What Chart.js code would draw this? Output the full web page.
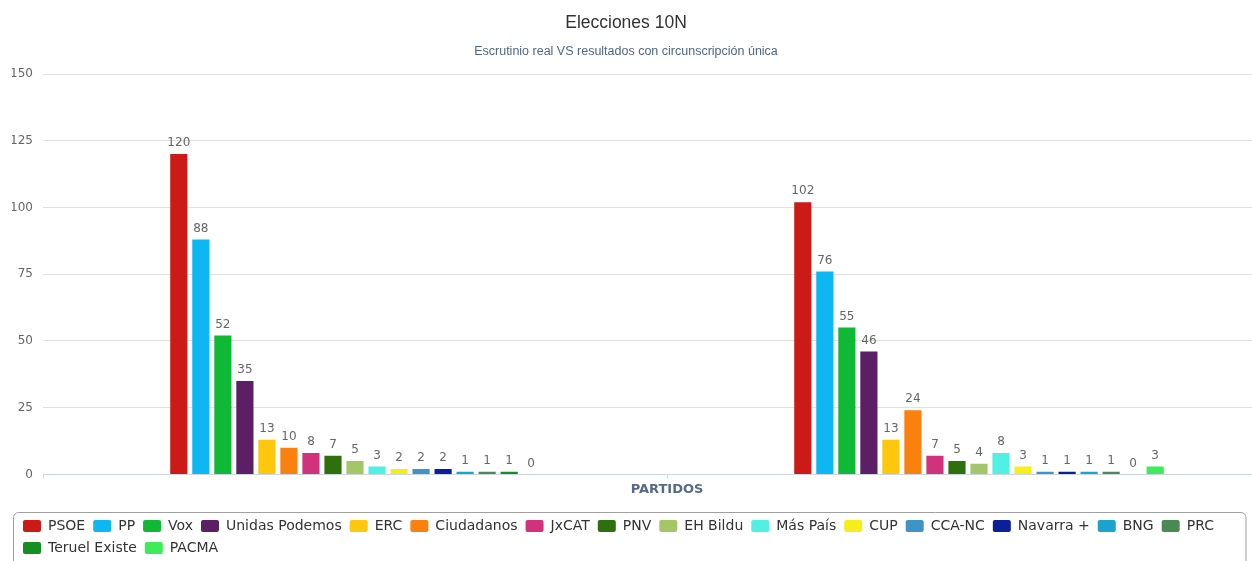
<!DOCTYPE html>
<html lang="es">
<head>
    <meta charset="UTF-8">
    <title>Elecciones 10N</title>
    <script src="https://cdn.jsdelivr.net/npm/chart.js"></script>
    <style>
        html, body { margin: 0; padding: 0; background: #fff; overflow: hidden; }
        /* plot and legend run past the page edges, like in the original capture */
        #wrap { width: 1300px; height: 565px; position: relative; }
    </style>
</head>
<body>
    <div id="wrap"><canvas id="seatsChart"></canvas></div>

    <script>
        // groups on the x axis (labels are not shown in the original)
        var grupos = ['Escrutinio real', 'Circunscripción única'];

        var partidos = ['PSOE', 'PP', 'Vox', 'Unidas Podemos', 'ERC', 'Ciudadanos', 'JxCAT', 'PNV',
                        'EH Bildu', 'Más País', 'CUP', 'CCA-NC', 'Navarra +', 'BNG', 'PRC',
                        'Teruel Existe', 'PACMA'];

        var escanosReales = [120, 88, 52, 35, 13, 10, 8, 7, 5, 3, 2, 2, 2, 1, 1, 1, 0];
        var escanosUnica  = [102, 76, 55, 46, 13, 24, 7, 5, 4, 8, 3, 1, 1, 1, 1, 0, 3];

        var colores = ['#cc1b16', '#0db7f2', '#0fb935', '#5b1f66', '#fdc70c', '#fb810e', '#d2327d', '#2e700d',
                       '#a5c667', '#50f0e4', '#f6ee1b', '#3f94c7', '#0c1e9a', '#1aa3cc', '#4a8a52',
                       '#168f22', '#3eec5a'];

        var yTicks = [0, 25, 50, 75, 100, 125, 150];

        var titulo = 'Elecciones 10N';
        var subtitulo = 'Escrutinio real VS resultados con circunscripción única';
        var PAGE_W = 1252;

        var datasets = partidos.map(function(p, i) {
            return {
                label: p,
                data: [escanosReales[i], escanosUnica[i]],
                backgroundColor: colores[i],
                borderWidth: 0,
                categoryPercentage: 0.6,
                barPercentage: 0.78
            };
        });

        // numbers above each bar
        var valueLabels = {
            id: 'valueLabels',
            afterDatasetsDraw: function(chart) {
                var ctx = chart.ctx;
                ctx.save();
                ctx.font = '12px "DejaVu Sans", sans-serif';
                ctx.fillStyle = '#666666';
                ctx.textAlign = 'center';
                ctx.textBaseline = 'bottom';
                chart.data.datasets.forEach(function(ds, i) {
                    chart.getDatasetMeta(i).data.forEach(function(bar, j) {
                        ctx.fillText(String(ds.data[j]), bar.x, bar.y - 5);
                    });
                });
                ctx.restore();
            }
        };

        // titles centred on the visible page, legend nudged right and framed
        var frame = {
            id: 'frame',
            afterLayout: function(chart) {
                chart.boxes.forEach(function(b) {
                    if (b.options && (b.options.text === titulo || b.options.text === subtitulo)) {
                        b.left = 0;
                        b.right = PAGE_W;
                        b.width = PAGE_W;
                    }
                });
                chart.legend.left = 15;
            },
            beforeDraw: function(chart) {
                var lg = chart.legend;
                var ctx = chart.ctx;
                var x = 13.5, y = lg.top + 1.5, w = PAGE_W - 6 - x, h = 80, r = 5;
                ctx.save();
                ctx.strokeStyle = '#a0a0a0';
                ctx.lineWidth = 1;
                ctx.beginPath();
                ctx.moveTo(x + r, y);
                ctx.lineTo(x + w - r, y);
                ctx.arcTo(x + w, y, x + w, y + r, r);
                ctx.lineTo(x + w, y + h);
                ctx.moveTo(x, y + h);
                ctx.lineTo(x, y + r);
                ctx.arcTo(x, y, x + r, y, r);
                ctx.stroke();
                ctx.restore();
            }
        };

        var ctx = document.getElementById('seatsChart').getContext('2d');
        var seatsChart = new Chart(ctx, {
            type: 'bar',
            data: { labels: grupos, datasets: datasets },
            plugins: [valueLabels, frame],
            options: {
                responsive: true,
                maintainAspectRatio: false,
                animation: false,
                layout: { padding: { left: 12, right: 9, top: 0, bottom: 0 } },
                plugins: {
                    title: {
                        display: true,
                        text: titulo,
                        color: '#333333',
                        font: { family: '"Liberation Sans", Arial, sans-serif', size: 17.5, weight: 'normal' },
                        padding: { top: 13, bottom: 0 }
                    },
                    subtitle: {
                        display: true,
                        text: subtitulo,
                        color: '#4f6782',
                        font: { family: '"Liberation Sans", Arial, sans-serif', size: 12.5 },
                        padding: { top: 10, bottom: 15 }
                    },
                    legend: {
                        position: 'bottom',
                        align: 'start',
                        labels: {
                            boxWidth: 18,
                            boxHeight: 12,
                            padding: 8,
                            color: '#333333',
                            useBorderRadius: true,
                            borderRadius: 2,
                            font: { family: '"DejaVu Sans", sans-serif', size: 14 }
                        }
                    },
                    tooltip: { enabled: false }
                },
                scales: {
                    x: {
                        ticks: { display: false },
                        grid: { drawOnChartArea: false, drawTicks: true, tickLength: 4, color: '#ccd6eb' },
                        border: { color: '#ccd6eb' },
                        title: {
                            display: true,
                            text: 'PARTIDOS',
                            color: '#56698a',
                            font: { family: '"DejaVu Sans", sans-serif', size: 13, weight: 'bold' },
                            padding: { top: 3, bottom: 14 }
                        }
                    },
                    y: {
                        min: 0,
                        max: 150,
                        afterBuildTicks: function(axis) {
                            axis.ticks = yTicks.map(function(v) { return { value: v }; });
                        },
                        afterFit: function(axis) { axis.width = 31; },
                        ticks: {
                            padding: 10,
                            color: '#666666',
                            font: { family: '"DejaVu Sans", sans-serif', size: 12 }
                        },
                        grid: { color: '#e0e0e0', drawTicks: false },
                        border: { display: false }
                    }
                }
            }
        });
    </script>
</body>
</html>
